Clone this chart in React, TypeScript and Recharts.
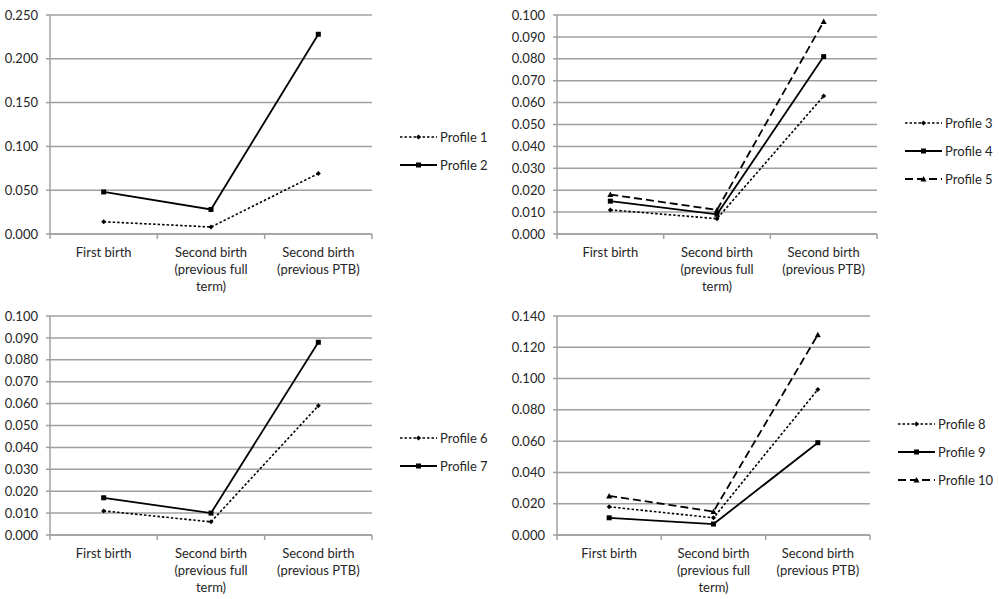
import React from "react";
import { LineChart, Line, XAxis, YAxis, CartesianGrid, Legend } from "recharts";

// ---------- data ----------
const categories = [
  "First birth",
  "Second birth (previous full term)",
  "Second birth (previous PTB)",
];
const categoryLines = [
  ["First birth"],
  ["Second birth", "(previous full", "term)"],
  ["Second birth", "(previous PTB)"],
];

const profile1 = [0.014, 0.008, 0.069];
const profile2 = [0.048, 0.028, 0.228];

const profile3 = [0.011, 0.007, 0.063];
const profile4 = [0.015, 0.009, 0.081];
const profile5 = [0.018, 0.011, 0.097];

const profile6 = [0.011, 0.006, 0.059];
const profile7 = [0.017, 0.010, 0.088];

const profile8 = [0.018, 0.011, 0.093];
const profile9 = [0.011, 0.007, 0.059];
const profile10 = [0.025, 0.015, 0.128];

const ticksP1 = [0, 0.05, 0.1, 0.15, 0.2, 0.25];
const ticksP2 = [0, 0.01, 0.02, 0.03, 0.04, 0.05, 0.06, 0.07, 0.08, 0.09, 0.1];
const ticksP3 = [0, 0.01, 0.02, 0.03, 0.04, 0.05, 0.06, 0.07, 0.08, 0.09, 0.1];
const ticksP4 = [0, 0.02, 0.04, 0.06, 0.08, 0.1, 0.12, 0.14];

// ---------- styling ----------
const FONT = "Lato, 'Open Sans', sans-serif";
const GRID = "#a0a0a0";
const TEXT = "#262626";

type Kind = "dotted" | "solid" | "dashed";
const dashFor: Record<Kind, string | undefined> = {
  dotted: "2.5 2",
  solid: undefined,
  dashed: "8 4",
};
const widthFor: Record<Kind, number> = { dotted: 1.6, solid: 1.8, dashed: 1.8 };

function Marker({ cx, cy, kind }: { cx: number; cy: number; kind: Kind }) {
  if (cx == null || cy == null) return null;
  if (kind === "solid")
    return <rect x={cx - 2.5} y={cy - 2.5} width={5} height={5} fill="#000" />;
  if (kind === "dashed")
    return (
      <polygon
        points={`${cx},${cy - 3} ${cx + 3},${cy + 2.5} ${cx - 3},${cy + 2.5}`}
        fill="#000"
      />
    );
  return (
    <polygon
      points={`${cx},${cy - 2.5} ${cx + 2.5},${cy} ${cx},${cy + 2.5} ${cx - 2.5},${cy}`}
      fill="#000"
    />
  );
}

type Series = { key: string; name: string; values: number[]; kind: Kind };

function buildData(series: Series[]) {
  return categories.map((c, i) => {
    const row: Record<string, number | string> = { x: i + 0.5, cat: c };
    series.forEach((s) => {
      row[s.key] = s.values[i];
    });
    return row;
  });
}

const xTicks = [0, 0.5, 1, 1.5, 2, 2.5, 3];

function XTick(props: any) {
  const { x, y, payload } = props;
  const v = payload.value as number;
  if (Number.isInteger(v)) {
    return <line x1={x} y1={y} x2={x} y2={y + 5} stroke={GRID} strokeWidth={1.5} />;
  }
  const lines = categoryLines[Math.floor(v)];
  return (
    <text
      x={x}
      y={y + 22.5}
      textAnchor="middle"
      fill={TEXT}
      fontSize={13}
      fontFamily={FONT}
    >
      {lines.map((l, i) => (
        <tspan key={i} x={x} dy={i === 0 ? 0 : 17}>
          {l}
        </tspan>
      ))}
    </text>
  );
}

function makeLegend(series: Series[]) {
  return function LegendContent() {
    return (
      <div style={{ fontFamily: FONT, fontSize: 13, color: TEXT }}>
        {series.map((s) => (
          <div
            key={s.key}
            style={{ display: "flex", alignItems: "center", height: 28 }}
          >
            <svg width={37} height={10} style={{ marginRight: 3 }}>
              <line
                x1={0}
                y1={5}
                x2={37}
                y2={5}
                stroke="#000"
                strokeWidth={widthFor[s.kind]}
                strokeDasharray={dashFor[s.kind]}
              />
              <Marker cx={18.5} cy={5} kind={s.kind} />
            </svg>
            <span>{s.name}</span>
          </div>
        ))}
      </div>
    );
  };
}

type PanelProps = {
  series: Series[];
  yTicks: number[];
  margin: { top: number; right: number; bottom: number; left: number };
  yWidth: number;
  legendPos: { left: number; top: number };
};

function Panel({ series, yTicks, margin, yWidth, legendPos }: PanelProps) {
  const data = buildData(series);
  const yMax = yTicks[yTicks.length - 1];
  return (
    <LineChart width={500} height={300} data={data} margin={margin}>
      <CartesianGrid
        vertical={false}
        stroke={GRID}
        strokeWidth={1.5}
        horizontalValues={yTicks}
      />
      <XAxis
        dataKey="x"
        type="number"
        domain={[0, 3]}
        ticks={xTicks}
        interval={0}
        tick={<XTick />}
        tickLine={false}
        tickSize={0}
        tickMargin={0}
        height={60}
        axisLine={{ stroke: GRID, strokeWidth: 1.5 }}
      />
      <YAxis
        type="number"
        domain={[0, yMax]}
        ticks={yTicks}
        interval={0}
        width={yWidth}
        tickFormatter={(v: number) => v.toFixed(3)}
        tick={{ fill: TEXT, fontSize: 13, fontFamily: FONT }}
        tickSize={4}
        tickMargin={8}
        tickLine={{ stroke: GRID, strokeWidth: 1.5 }}
        axisLine={{ stroke: GRID, strokeWidth: 1.5 }}
      />
      {series.map((s) => (
        <Line
          key={s.key}
          dataKey={s.key}
          name={s.name}
          type="linear"
          stroke="#000"
          strokeWidth={widthFor[s.kind]}
          strokeDasharray={dashFor[s.kind]}
          dot={(p: any) => <Marker key={`${s.key}-${p.index}`} cx={p.cx} cy={p.cy} kind={s.kind} />}
          activeDot={false}
          isAnimationActive={false}
        />
      ))}
      <Legend
        layout="vertical"
        align="center"
        verticalAlign="middle"
        content={makeLegend(series)}
        wrapperStyle={{ position: "absolute", left: legendPos.left, top: legendPos.top, width: 110 }}
      />
    </LineChart>
  );
}

const seriesP1: Series[] = [
  { key: "p1", name: "Profile 1", values: profile1, kind: "dotted" },
  { key: "p2", name: "Profile 2", values: profile2, kind: "solid" },
];
const seriesP2: Series[] = [
  { key: "p3", name: "Profile 3", values: profile3, kind: "dotted" },
  { key: "p4", name: "Profile 4", values: profile4, kind: "solid" },
  { key: "p5", name: "Profile 5", values: profile5, kind: "dashed" },
];
const seriesP3: Series[] = [
  { key: "p6", name: "Profile 6", values: profile6, kind: "dotted" },
  { key: "p7", name: "Profile 7", values: profile7, kind: "solid" },
];
const seriesP4: Series[] = [
  { key: "p8", name: "Profile 8", values: profile8, kind: "dotted" },
  { key: "p9", name: "Profile 9", values: profile9, kind: "solid" },
  { key: "p10", name: "Profile 10", values: profile10, kind: "dashed" },
];

export default function App() {
  return (
    <div
      style={{
        position: "absolute",
        left: 0,
        top: 0,
        width: 999,
        height: 599,
        background: "#fff",
        fontFamily: FONT,
      }}
    >
      <div style={{ position: "absolute", left: 0, top: 0 }}>
        <Panel
          series={seriesP1}
          yTicks={ticksP1}
          margin={{ top: 15, right: 128, bottom: 6, left: 0 }}
          yWidth={50}
          legendPos={{ left: 400, top: 123 }}
        />
      </div>
      <div style={{ position: "absolute", left: 500, top: 0 }}>
        <Panel
          series={seriesP2}
          yTicks={ticksP2}
          margin={{ top: 15, right: 123, bottom: 6, left: 0 }}
          yWidth={57}
          legendPos={{ left: 405, top: 109 }}
        />
      </div>
      <div style={{ position: "absolute", left: 0, top: 300 }}>
        <Panel
          series={seriesP3}
          yTicks={ticksP3}
          margin={{ top: 16, right: 128, bottom: 5, left: 0 }}
          yWidth={50}
          legendPos={{ left: 400, top: 124 }}
        />
      </div>
      <div style={{ position: "absolute", left: 500, top: 300 }}>
        <Panel
          series={seriesP4}
          yTicks={ticksP4}
          margin={{ top: 16, right: 130, bottom: 5, left: 0 }}
          yWidth={57}
          legendPos={{ left: 398, top: 110 }}
        />
      </div>
    </div>
  );
}
